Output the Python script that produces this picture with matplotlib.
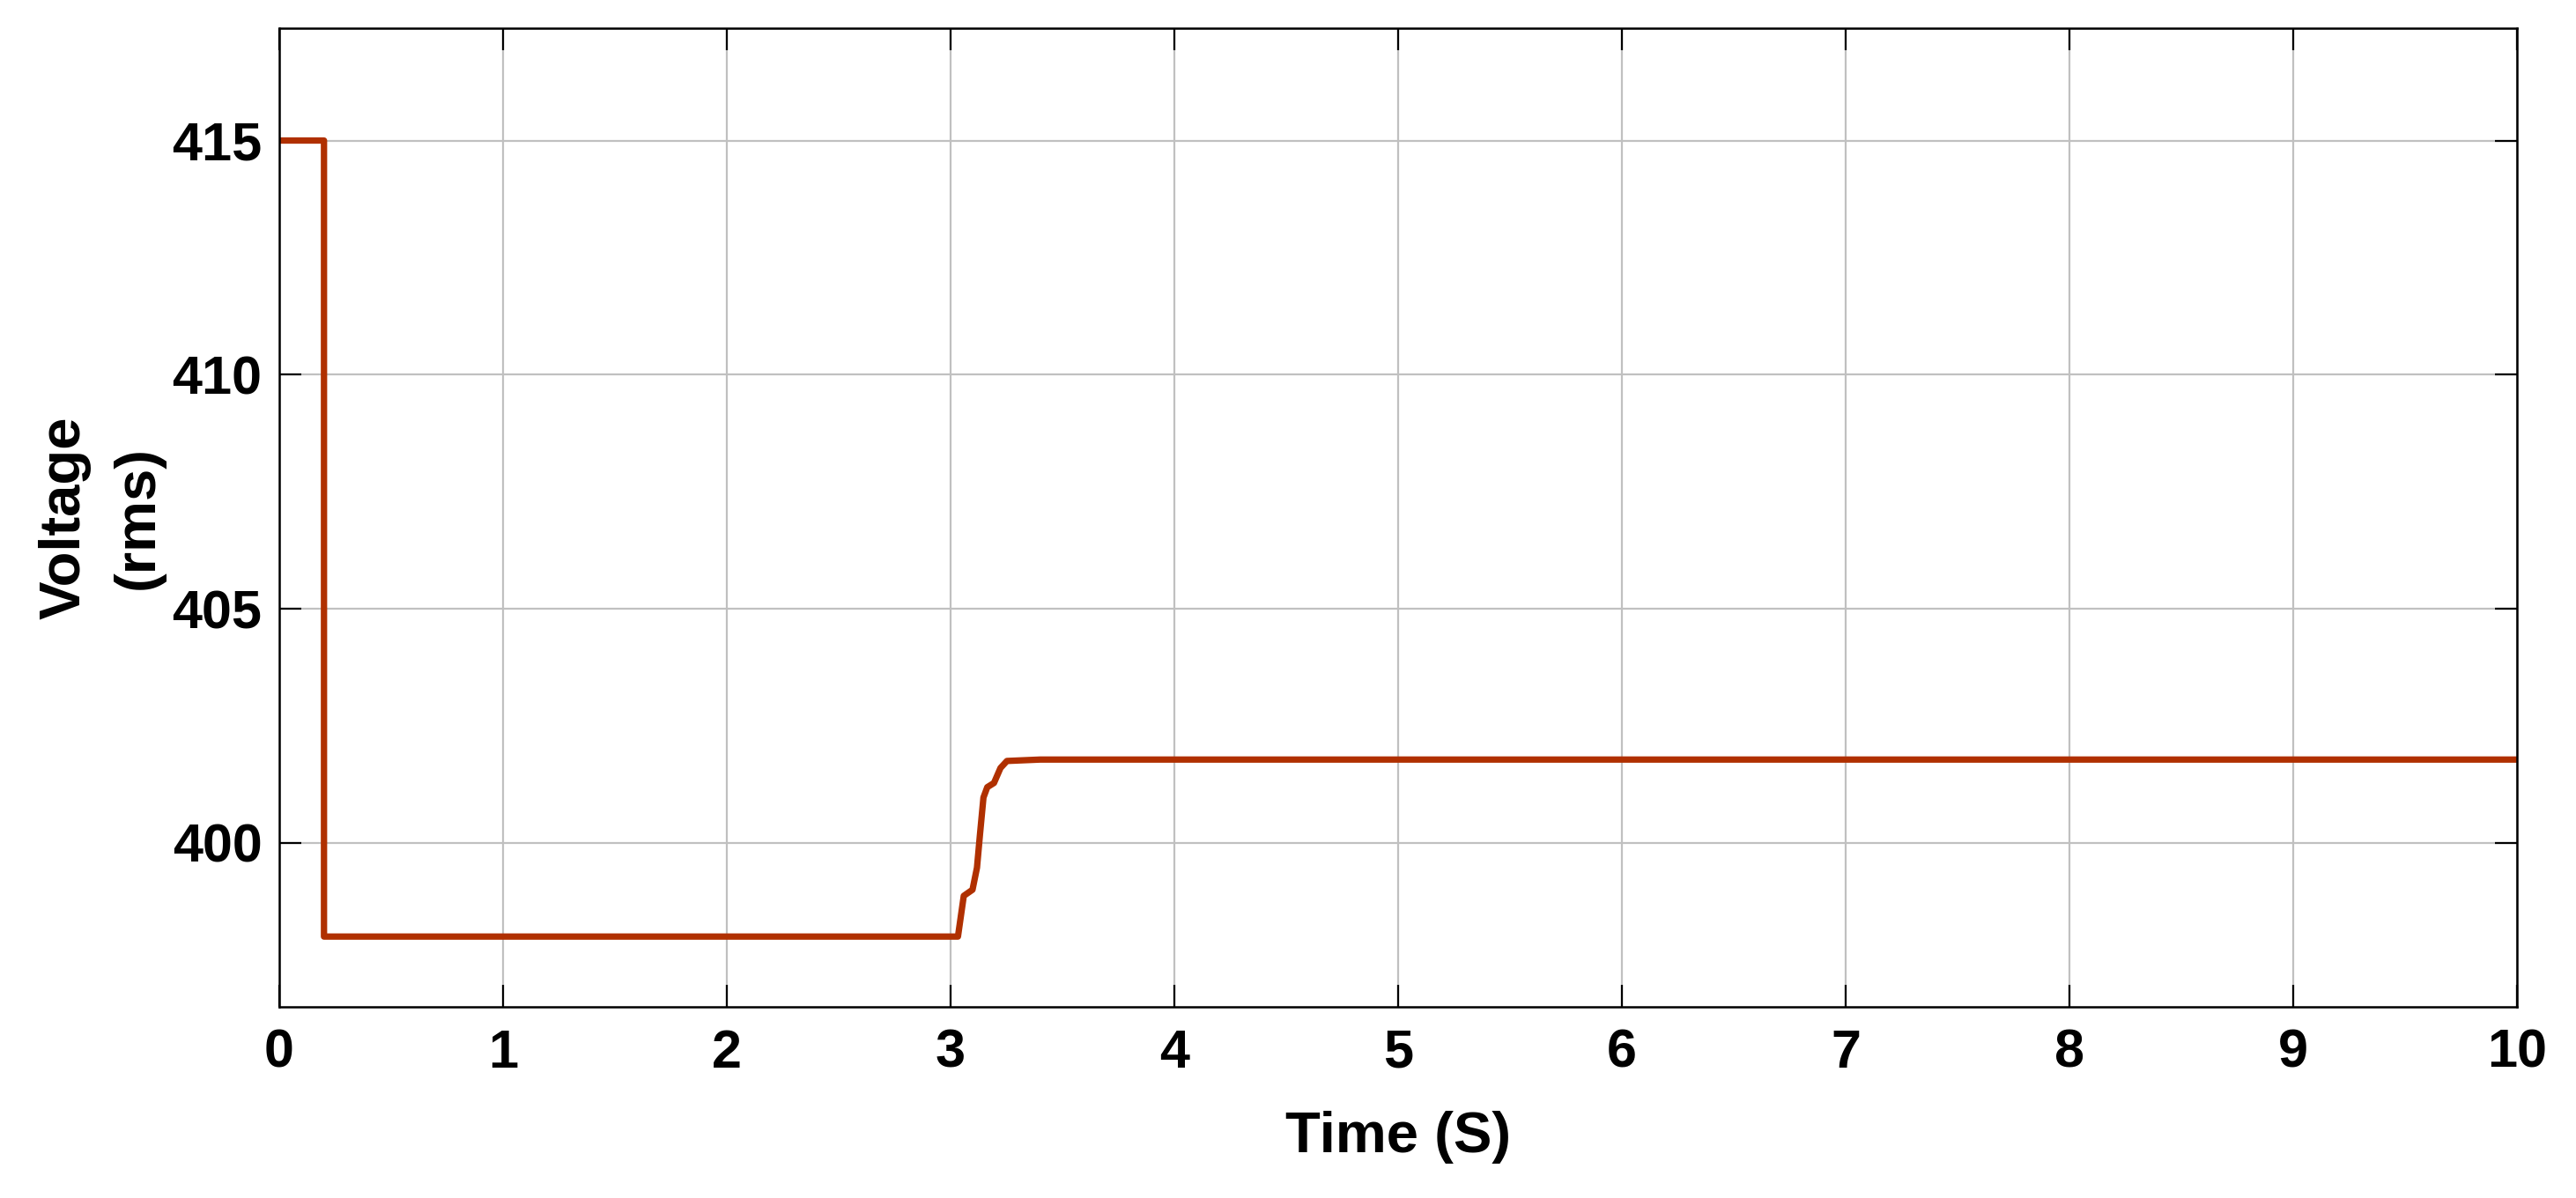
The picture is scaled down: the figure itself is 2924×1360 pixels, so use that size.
import matplotlib.pyplot as plt

# tension rms
tiempo = [0.0, 0.2, 0.2, 3.033, 3.059, 3.098, 3.118, 3.131, 3.147, 3.164, 3.194, 3.223, 3.252, 3.40, 10.0]
tension = [415.0, 415.0, 398.0, 398.0, 398.87, 399.0, 399.47, 400.16, 400.97, 401.19, 401.28, 401.6, 401.75, 401.78, 401.78]

ticks_x = list(range(0, 11))
ticks_y = [400, 405, 410, 415]

fuente = ['Liberation Sans', 'DejaVu Sans']

fig = plt.figure(figsize=(14.62, 6.8), dpi=200)
ax = fig.add_axes([0.1084, 0.1596, 0.8687, 0.8169])

ax.plot(tiempo, tension, color='#B03000', linewidth=2.6, solid_joinstyle='round')

ax.set_xlim(0, 10)
ax.set_ylim(396.5, 417.4)
ax.set_xticks(ticks_x)
ax.set_yticks(ticks_y)
ax.grid(True, color='#c0c0c0', linewidth=0.8)
ax.set_axisbelow(True)

ax.tick_params(direction='in', length=9, width=0.8, top=True, right=True,
               labelsize=22)
ax.tick_params(axis='x', pad=9)
ax.tick_params(axis='y', pad=7)
for lab in ax.get_xticklabels() + ax.get_yticklabels():
    lab.set_fontweight('bold')
    lab.set_family(fuente)
for sp in ax.spines.values():
    sp.set_linewidth(0.9)

ax.set_xlabel('Time (S)', fontsize=23.5, fontweight='bold', family=fuente, labelpad=13)
ax.set_ylabel('Voltage\n(rms)', fontsize=23.5, fontweight='bold', family=fuente,
              labelpad=3, linespacing=1.5)

fig.savefig('out.png', dpi=200)
plt.close(fig)
